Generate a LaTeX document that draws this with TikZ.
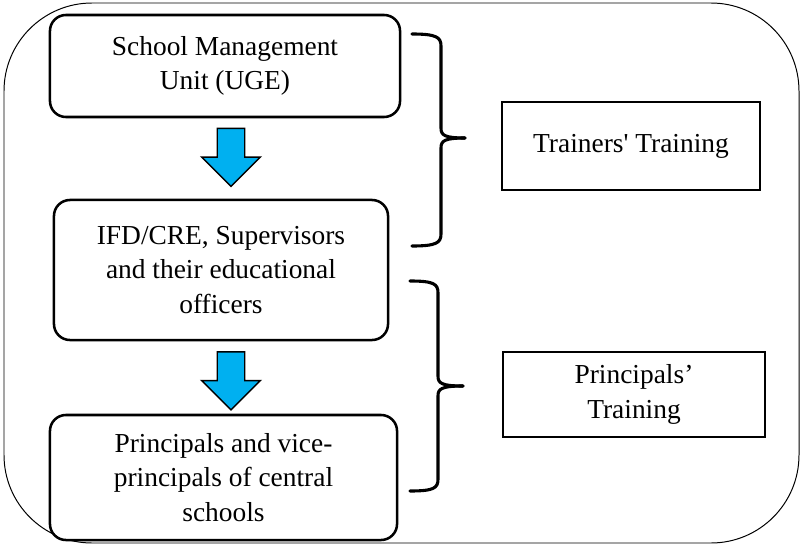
\documentclass[tikz,border=0pt]{standalone}
\usepackage{fontspec}
\setmainfont{Liberation Serif}
\usepackage{tikz}
\usetikzlibrary{shapes}
\usetikzlibrary{shapes.arrows}
\usetikzlibrary{positioning}
\definecolor{arrowblue}{RGB}{0,176,240}
\tikzset{
    stagebox/.style = {rounded corners=0.4cm, line width=1.8pt, draw=black, align=center, fill=white, font=\fontsize{19.5}{24.5}\selectfont},
    trainbox/.style = {rectangle, line width=1.8pt, draw=black, align=center, fill=white, font=\fontsize{19.5}{24.5}\selectfont},
    downarrow/.style = {single arrow, draw=black, line width=1pt, fill=arrowblue, rotate=-90, minimum height=1.45cm, inner xsep=0pt, inner ysep=0.325cm, single arrow head extend=0.39cm},
    bracel/.style = {line width=2.2pt, line cap=round},
    outer/.style = {rounded corners=2.2cm, line width=0.7pt}
}

\begin{document}
\begin{tikzpicture}[x=0.025cm,y=-0.025cm]
\useasboundingbox (0,0) rectangle (803,546);
\draw[outer] (4,3) rectangle (799,543);

% stages
\node[stagebox, minimum width=8.75cm, minimum height=2.55cm] at (225,66) (uge) {School Management\\Unit (UGE)};
\node[stagebox, minimum width=8.35cm, minimum height=3.5cm] at (221,270) (ifd) {IFD/CRE, Supervisors\\and their educational\\officers};
\node[stagebox, minimum width=8.675cm, minimum height=3.125cm] at (223.5,477.5) (prin) {Principals and vice-\\principals of central\\schools};

\node[downarrow] at (231,150.5) (arr1) {};
\node[downarrow] at (231,374) (arr2) {};

% trainings
\node[trainbox, minimum width=6.45cm, minimum height=2.2cm] at (631,146) (ttrain) {Trainers\textquotesingle{} Training};
\node[trainbox, minimum width=6.55cm, minimum height=2.125cm] at (634,394.5) (ptrain) {Principals’\\Training};

% braces
\coordinate (b1top) at (412,34);
\coordinate (b1bot) at (412,246);
\coordinate (b1tip) at (465,138);
\coordinate (b2top) at (410,281);
\coordinate (b2bot) at (410,491);
\coordinate (b2tip) at (463,386);

\draw[bracel] (b1top) .. controls (436,34) and (441,37) .. (441,46) -- (441,128) .. controls (441,135) and (444,138) .. (b1tip);
\draw[bracel] (b1bot) .. controls (436,246) and (441,243) .. (441,234) -- (441,148) .. controls (441,141) and (444,138) .. (b1tip);
\draw[bracel] (b2top) .. controls (434,281) and (438,284) .. (438,293) -- (438,376) .. controls (438,383) and (441,386) .. (b2tip);
\draw[bracel] (b2bot) .. controls (434,491) and (438,488) .. (438,479) -- (438,396) .. controls (438,389) and (441,386) .. (b2tip);

\end{tikzpicture}
\end{document}
